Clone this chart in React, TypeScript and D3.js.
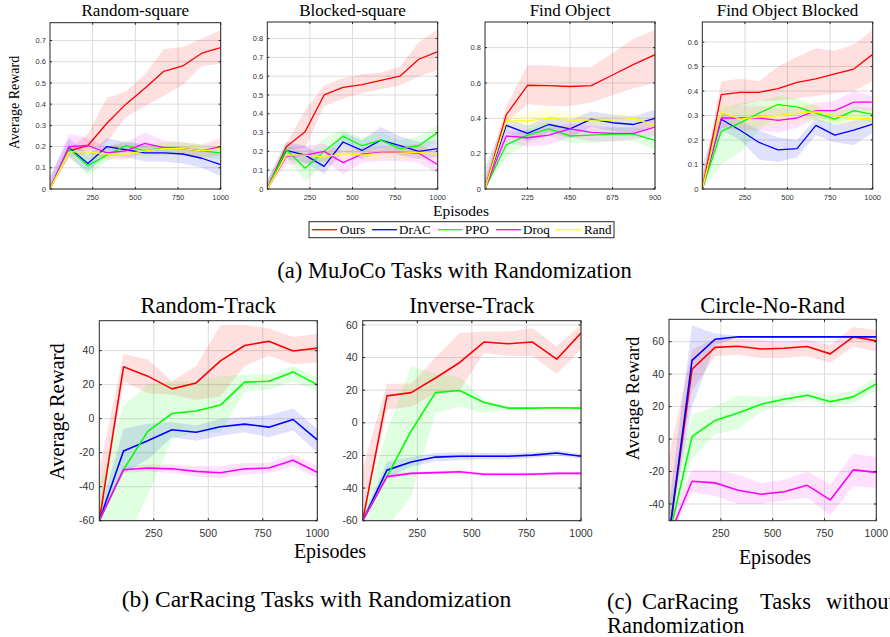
import React from "react";
import * as d3 from "d3";

// ---------- shared data ----------
const methods = ["Ours", "DrAC", "PPO", "Droq", "Rand"];
const colors = ["#ff0000", "#0000ff", "#00ff00", "#ff00ff", "#ffff00"];
const xs10 = [0, 111.1, 222.2, 333.3, 444.4, 555.6, 666.7, 777.8, 888.9, 1000];
const xs9 = [0, 112.5, 225, 337.5, 450, 562.5, 675, 787.5, 900];
const xTicks1000 = [250, 500, 750, 1000];
const xTicks900 = [225, 450, 675, 900];

// ---------- Random-square ----------
const rsOurs = [0, 0.18, 0.205, 0.31, 0.40, 0.475, 0.555, 0.58, 0.64, 0.667];
const rsOursHi = [0.02, 0.19, 0.26, 0.43, 0.46, 0.54, 0.66, 0.67, 0.71, 0.75];
const rsOursLo = [0, 0.17, 0.18, 0.22, 0.34, 0.39, 0.44, 0.49, 0.58, 0.59];
const rsDrac = [0, 0.195, 0.12, 0.2, 0.185, 0.17, 0.17, 0.165, 0.145, 0.115];
const rsDracHi = [0.06, 0.24, 0.16, 0.24, 0.22, 0.21, 0.2, 0.2, 0.19, 0.17];
const rsDracLo = [0, 0.15, 0.08, 0.16, 0.15, 0.13, 0.13, 0.12, 0.1, 0.06];
const rsPpo = [0, 0.19, 0.11, 0.16, 0.205, 0.18, 0.195, 0.19, 0.18, 0.17];
const rsPpoHi = [0.03, 0.22, 0.17, 0.2, 0.23, 0.21, 0.22, 0.22, 0.21, 0.2];
const rsPpoLo = [0, 0.16, 0.06, 0.13, 0.18, 0.15, 0.17, 0.16, 0.15, 0.14];
const rsDroq = [0, 0.2, 0.205, 0.17, 0.18, 0.215, 0.195, 0.19, 0.18, 0.2];
const rsDroqHi = [0.05, 0.26, 0.24, 0.2, 0.22, 0.265, 0.23, 0.22, 0.21, 0.24];
const rsDroqLo = [0, 0.15, 0.17, 0.14, 0.14, 0.17, 0.16, 0.16, 0.15, 0.16];
const rsRand = [0, 0.175, 0.175, 0.165, 0.165, 0.18, 0.19, 0.19, 0.18, 0.19];
const rsRandHi = [0.02, 0.2, 0.2, 0.19, 0.19, 0.2, 0.22, 0.22, 0.21, 0.23];
const rsRandLo = [0, 0.15, 0.15, 0.14, 0.14, 0.15, 0.16, 0.16, 0.15, 0.16];
const rsYTicks = [0, 0.1, 0.2, 0.3, 0.4, 0.5, 0.6, 0.7];

// ---------- Blocked-square ----------
const bsOurs = [0, 0.225, 0.305, 0.5, 0.54, 0.555, 0.578, 0.6, 0.69, 0.73];
const bsOursHi = [0.03, 0.24, 0.42, 0.55, 0.59, 0.61, 0.62, 0.65, 0.78, 0.85];
const bsOursLo = [0, 0.21, 0.22, 0.44, 0.48, 0.51, 0.53, 0.55, 0.6, 0.63];
const bsDrac = [0, 0.205, 0.18, 0.12, 0.25, 0.205, 0.26, 0.23, 0.2, 0.215];
const bsDracHi = [0.05, 0.25, 0.23, 0.17, 0.3, 0.26, 0.33, 0.28, 0.25, 0.26];
const bsDracLo = [0, 0.16, 0.14, 0.08, 0.2, 0.16, 0.2, 0.18, 0.16, 0.17];
const bsPpo = [0, 0.21, 0.11, 0.2, 0.28, 0.23, 0.26, 0.215, 0.23, 0.3];
const bsPpoHi = [0.04, 0.25, 0.18, 0.27, 0.32, 0.27, 0.3, 0.26, 0.28, 0.34];
const bsPpoLo = [0, 0.17, 0.04, 0.13, 0.24, 0.19, 0.22, 0.18, 0.19, 0.26];
const bsDroq = [0, 0.175, 0.18, 0.2, 0.14, 0.185, 0.195, 0.195, 0.19, 0.13];
const bsDroqHi = [0.04, 0.22, 0.23, 0.24, 0.2, 0.22, 0.23, 0.23, 0.24, 0.19];
const bsDroqLo = [0, 0.13, 0.13, 0.15, 0.08, 0.14, 0.15, 0.15, 0.14, 0.08];
const bsRand = [0, 0.18, 0.18, 0.17, 0.19, 0.18, 0.19, 0.19, 0.195, 0.185];
const bsRandHi = [0.02, 0.21, 0.21, 0.2, 0.22, 0.21, 0.22, 0.22, 0.23, 0.22];
const bsRandLo = [0, 0.15, 0.15, 0.14, 0.16, 0.15, 0.16, 0.16, 0.16, 0.15];
const bsYTicks = [0, 0.1, 0.2, 0.3, 0.4, 0.5, 0.6, 0.7, 0.8];

// ---------- Find Object ----------
const foOurs = [0, 0.42, 0.587, 0.585, 0.58, 0.585, 0.645, 0.705, 0.76];
const foOursHi = [0.05, 0.47, 0.7, 0.7, 0.69, 0.69, 0.77, 0.85, 0.9];
const foOursLo = [0, 0.38, 0.48, 0.47, 0.47, 0.49, 0.53, 0.57, 0.6];
const foDrac = [0, 0.36, 0.315, 0.365, 0.34, 0.395, 0.375, 0.365, 0.4];
const foDracHi = [0.12, 0.4, 0.36, 0.41, 0.39, 0.44, 0.42, 0.41, 0.45];
const foDracLo = [0, 0.32, 0.27, 0.32, 0.29, 0.35, 0.33, 0.32, 0.35];
const foPpo = [0, 0.25, 0.305, 0.34, 0.3, 0.305, 0.31, 0.31, 0.275];
const foPpoHi = [0.04, 0.3, 0.34, 0.38, 0.34, 0.34, 0.35, 0.35, 0.33];
const foPpoLo = [0, 0.18, 0.26, 0.3, 0.26, 0.26, 0.27, 0.27, 0.22];
const foDroq = [0, 0.3, 0.29, 0.305, 0.34, 0.32, 0.315, 0.315, 0.35];
const foDroqHi = [0.06, 0.33, 0.33, 0.35, 0.37, 0.36, 0.35, 0.35, 0.4];
const foDroqLo = [0, 0.26, 0.24, 0.25, 0.29, 0.27, 0.27, 0.28, 0.3];
const foRand = [0, 0.385, 0.385, 0.4, 0.39, 0.39, 0.39, 0.4, 0.36];
const foRandHi = [0.08, 0.42, 0.43, 0.46, 0.43, 0.42, 0.42, 0.43, 0.4];
const foRandLo = [0, 0.35, 0.34, 0.35, 0.35, 0.36, 0.36, 0.37, 0.32];
const foYTicks = [0, 0.2, 0.4, 0.6, 0.8];

// ---------- Find Object Blocked ----------
const fbOurs = [0, 0.385, 0.395, 0.395, 0.41, 0.435, 0.45, 0.47, 0.49, 0.55];
const fbOursHi = [0.03, 0.44, 0.45, 0.44, 0.5, 0.54, 0.575, 0.565, 0.59, 0.65];
const fbOursLo = [0, 0.33, 0.34, 0.36, 0.36, 0.37, 0.38, 0.39, 0.4, 0.44];
const fbDrac = [0, 0.285, 0.24, 0.19, 0.16, 0.165, 0.26, 0.22, 0.24, 0.265];
const fbDracHi = [0.1, 0.32, 0.28, 0.24, 0.21, 0.2, 0.29, 0.26, 0.28, 0.3];
const fbDracLo = [0, 0.24, 0.2, 0.12, 0.11, 0.13, 0.22, 0.19, 0.18, 0.23];
const fbPpo = [0, 0.235, 0.27, 0.31, 0.345, 0.335, 0.31, 0.285, 0.32, 0.305];
const fbPpoHi = [0.06, 0.33, 0.35, 0.36, 0.38, 0.37, 0.34, 0.31, 0.34, 0.33];
const fbPpoLo = [0, 0.1, 0.15, 0.24, 0.3, 0.3, 0.28, 0.26, 0.29, 0.27];
const fbDroq = [0, 0.29, 0.29, 0.29, 0.28, 0.29, 0.32, 0.32, 0.355, 0.355];
const fbDroqHi = [0.05, 0.33, 0.34, 0.34, 0.33, 0.33, 0.35, 0.36, 0.4, 0.38];
const fbDroqLo = [0, 0.25, 0.24, 0.24, 0.23, 0.25, 0.29, 0.28, 0.31, 0.32];
const fbRand = [0, 0.315, 0.285, 0.295, 0.3, 0.31, 0.315, 0.3, 0.285, 0.29];
const fbRandHi = [0.04, 0.35, 0.33, 0.34, 0.35, 0.35, 0.35, 0.33, 0.32, 0.33];
const fbRandLo = [0, 0.28, 0.24, 0.25, 0.26, 0.27, 0.28, 0.27, 0.25, 0.25];
const fbYTicks = [0, 0.1, 0.2, 0.3, 0.4, 0.5, 0.6];

// ---------- Random-Track ----------
const rtOurs = [-60, 30.5, 25, 17.5, 21, 34, 43, 45.5, 39.8, 41.5];
const rtOursHi = [-30, 38, 35, 22, 31, 55, 55, 53, 48, 50];
const rtOursLo = [-60, 22, 15, 14, 11, 13, 31, 37, 32, 33];
const rtDrac = [-60, -19, -13, -6.5, -8, -4.8, -3.2, -5, -0.5, -12.5];
const rtDracHi = [-55, -6, -3, -2, -4, 0, 1, 2, 6, -6];
const rtDracLo = [-60, -32, -24, -11, -13, -10, -8, -11, -7, -20];
const rtPpo = [-60, -30, -7.5, 3, 4.5, 8, 21.5, 22, 27.5, 20];
const rtPpoHi = [-40, 8, 20, 22, 22, 25, 26, 26, 31, 24];
const rtPpoLo = [-60, -75, -45, -12, -8, -8, 16, 17, 22, 16];
const rtDroq = [-60, -30, -29, -29.5, -31, -31.8, -29.5, -29, -24.5, -31.5];
const rtDroqHi = [-60, -28, -27, -27, -28, -28, -26, -26, -21, -28];
const rtDroqLo = [-60, -32, -31, -32, -34, -35, -33, -32, -28, -35];

// ---------- Inverse-Track ----------
const itOurs = [-60, 16.5, 18.5, 27.5, 37, 49.5, 48.5, 49.5, 39, 55];
const itOursHi = [-28, 24, 24, 40, 55, 56, 56, 58, 47, 60];
const itOursLo = [-60, 8, 10, 18, 20, 43, 41, 41, 30, 45];
const itDrac = [-60, -29, -24, -21, -20.5, -20.5, -20.5, -19.8, -18.5, -20.5];
const itDracHi = [-58, -24, -21, -18.5, -18, -18.5, -18.5, -18, -17, -19];
const itDracLo = [-60, -34, -27, -23.5, -23, -22.5, -22.5, -21.5, -20, -22];
const itPpo = [-60, -33, -5, 18.5, 19.8, 12.5, 9, 9, 9.2, 9];
const itPpoHi = [-55, -5, 35, 30, 28, 14, 10, 10, 10, 10];
const itPpoLo = [-60, -65, -45, 6, 10, 6, 8, 8, 8.5, 8];
const itDroq = [-60, -33, -31, -30.5, -30, -31.5, -31.5, -31.5, -31, -31];
const itDroqHi = [-60, -31.5, -30, -29.5, -29, -30.5, -30.5, -30.5, -30, -30];
const itDroqLo = [-60, -34.5, -32, -31.5, -31, -32.5, -32.5, -32.5, -32, -32];

// ---------- Circle-No-Rand ----------
const cnOurs = [-60, 43, 56.5, 57.2, 55.5, 56, 57, 52.5, 63, 60.5];
const cnOursHi = [-10, 55, 62, 62, 61, 60, 61, 58, 69, 67];
const cnOursLo = [-60, 30, 51, 52, 50, 50, 51, 47, 57, 54];
const cnDrac = [-60, 48.5, 61.5, 63, 63, 63, 63, 63, 63, 63];
const cnDracHi = [-40, 70, 65, 63.5, 63.5, 63.5, 63.5, 63.5, 63.5, 63.5];
const cnDracLo = [-60, 20, 58, 62.5, 62.5, 62.5, 62.5, 62.5, 62.5, 62.5];
const cnPpo = [-60, 1.5, 11.5, 16, 21.5, 24.5, 27, 23, 26, 34];
const cnPpoHi = [-40, 15, 20, 27, 26, 27, 30, 27, 30, 38];
const cnPpoLo = [-60, -12, 3, 6, 17, 21, 24, 20, 22, 30];
const cnDroq = [-60, -26, -27, -31.5, -34, -32.5, -28.5, -37.5, -19, -20.5];
const cnDroqHi = [-50, -19, -19, -22, -27, -25, -20, -28, -9, -11];
const cnDroqLo = [-60, -33, -35, -40, -40, -38, -36, -47, -29, -30];

const trackYTicks = [-60, -40, -20, 0, 20, 40];
const invYTicks = [-60, -40, -20, 0, 20, 40, 60];
const circYTicks = [-40, -20, 0, 20, 40, 60];

type S = { color: string; mean: number[]; lo: number[]; hi: number[] };
const mk = (i: number, mean: number[], lo: number[], hi: number[]): S => ({ color: colors[i], mean, lo, hi });

const SERIF = "'Liberation Serif', 'Times New Roman', serif";
const SANS = "'Liberation Sans', Arial, sans-serif";
const AX = "#262626";

type PanelProps = {
  id: string;
  box: { x: number; y: number; w: number; h: number };
  xDomain: number[];
  yDomain: number[];
  xTicks: number[];
  yTicks: number[];
  xs: number[];
  series: S[];
  tickFont: number;
  xLabelDy: number;
  yLabelDx: number;
  fmt: (d: number) => string;
  title: string;
  titleSize: number;
  titleY: number;
  lw: number;
  tickLen: number;
};

function Panel(p: PanelProps) {
  const { box } = p;
  const x = d3.scaleLinear().domain(p.xDomain).range([box.x, box.x + box.w]);
  const y = d3.scaleLinear().domain(p.yDomain).range([box.y + box.h, box.y]);
  const line = d3
    .line<number>()
    .x((_, i) => x(p.xs[i]))
    .y((d) => y(d));
  const areaGen = (s: S) =>
    d3
      .area<number>()
      .x((_, i) => x(p.xs[i]))
      .y0((_, i) => y(s.lo[i]))
      .y1((_, i) => y(s.hi[i]))(s.mean);
  const x0 = box.x, x1 = box.x + box.w, y0 = box.y, y1 = box.y + box.h;
  return (
    <g>
      <defs>
        <clipPath id={p.id}>
          <rect x={x0} y={y0} width={box.w} height={box.h} />
        </clipPath>
      </defs>
      <rect x={x0} y={y0} width={box.w} height={box.h} fill="#fff" />
      {p.xTicks.map((t) => (
        <line key={"gx" + t} x1={x(t)} x2={x(t)} y1={y0} y2={y1} stroke="#dcdcdc" strokeWidth={1} />
      ))}
      {p.yTicks.map((t) => (
        <line key={"gy" + t} x1={x0} x2={x1} y1={y(t)} y2={y(t)} stroke="#dcdcdc" strokeWidth={1} />
      ))}
      <g clipPath={`url(#${p.id})`}>
        {p.series.map((s, i) => (
          <path key={"a" + i} d={areaGen(s) || ""} fill={s.color} fillOpacity={0.12} stroke="none" />
        ))}
        {p.series.map((s, i) => (
          <path key={"l" + i} d={line(s.mean) || ""} fill="none" stroke={s.color} strokeWidth={p.lw} strokeLinejoin="round" />
        ))}
      </g>
      <rect x={x0} y={y0} width={box.w} height={box.h} fill="none" stroke={AX} strokeWidth={1} />
      {p.xTicks.map((t) => (
        <g key={"tx" + t}>
          <line x1={x(t)} x2={x(t)} y1={y1} y2={y1 - p.tickLen} stroke={AX} strokeWidth={1} />
          <line x1={x(t)} x2={x(t)} y1={y0} y2={y0 + p.tickLen} stroke={AX} strokeWidth={1} />
          <text x={x(t)} y={y1 + p.xLabelDy} textAnchor="middle" fontFamily={SANS} fontSize={p.tickFont} fill="#333">
            {String(t)}
          </text>
        </g>
      ))}
      {p.yTicks.map((t) => (
        <g key={"ty" + t}>
          <line x1={x0} x2={x0 + p.tickLen} y1={y(t)} y2={y(t)} stroke={AX} strokeWidth={1} />
          <line x1={x1} x2={x1 - p.tickLen} y1={y(t)} y2={y(t)} stroke={AX} strokeWidth={1} />
          <text x={x0 - p.yLabelDx} y={y(t)} dy="0.35em" textAnchor="end" fontFamily={SANS} fontSize={p.tickFont} fill="#333">
            {p.fmt(t)}
          </text>
        </g>
      ))}
      <text x={(x0 + x1) / 2} y={p.titleY} textAnchor="middle" fontFamily={SERIF} fontSize={p.titleSize} fill="#000">
        {p.title}
      </text>
    </g>
  );
}

const fmtDec = (d: number) => (d === 0 ? "0" : d.toFixed(1));
const fmtInt = (d: number) => String(d);

export default function App() {
  const top = { tickFont: 7.5, xLabelDy: 11, yLabelDx: 4, fmt: fmtDec, titleSize: 17, titleY: 16, lw: 1.3, tickLen: 2 };
  const bot = { tickFont: 10.5, xLabelDy: 16, yLabelDx: 5, fmt: fmtInt, titleSize: 22.5, titleY: 312.7, lw: 1.6, tickLen: 2.5 };
  const legendLayout = [
    { l0: 312, l1: 337, t: 340 },
    { l0: 372, l1: 397, t: 399 },
    { l0: 438, l1: 462, t: 465 },
    { l0: 496, l1: 521, t: 523 },
    { l0: 556, l1: 581, t: 584 },
  ];
  return (
    <svg width={890} height={637} style={{ position: "absolute", left: 0, top: 0, background: "#fff" }}>
      <rect x={0} y={0} width={890} height={637} fill="#fff" />
      <Panel
        id="c1" box={{ x: 50, y: 22.7, w: 170.7, h: 166.3 }} xDomain={[0, 1000]} yDomain={[0, 0.784]}
        xTicks={xTicks1000} yTicks={rsYTicks} xs={xs10} title="Random-square" {...top}
        series={[mk(0, rsOurs, rsOursLo, rsOursHi), mk(1, rsDrac, rsDracLo, rsDracHi), mk(2, rsPpo, rsPpoLo, rsPpoHi), mk(3, rsDroq, rsDroqLo, rsDroqHi), mk(4, rsRand, rsRandLo, rsRandHi)]}
      />
      <Panel
        id="c2" box={{ x: 267.3, y: 22, w: 170.4, h: 167 }} xDomain={[0, 1000]} yDomain={[0, 0.888]}
        xTicks={xTicks1000} yTicks={bsYTicks} xs={xs10} title="Blocked-square" {...top}
        series={[mk(0, bsOurs, bsOursLo, bsOursHi), mk(1, bsDrac, bsDracLo, bsDracHi), mk(2, bsPpo, bsPpoLo, bsPpoHi), mk(3, bsDroq, bsDroqLo, bsDroqHi), mk(4, bsRand, bsRandLo, bsRandHi)]}
      />
      <Panel
        id="c3" box={{ x: 485, y: 22, w: 170, h: 167 }} xDomain={[0, 900]} yDomain={[0, 0.945]}
        xTicks={xTicks900} yTicks={foYTicks} xs={xs9} title="Find Object" {...top}
        series={[mk(0, foOurs, foOursLo, foOursHi), mk(1, foDrac, foDracLo, foDracHi), mk(2, foPpo, foPpoLo, foPpoHi), mk(3, foDroq, foDroqLo, foDroqHi), mk(4, foRand, foRandLo, foRandHi)]}
      />
      <Panel
        id="c4" box={{ x: 702.3, y: 22, w: 170.4, h: 167 }} xDomain={[0, 1000]} yDomain={[0, 0.682]}
        xTicks={xTicks1000} yTicks={fbYTicks} xs={xs10} title="Find Object Blocked" {...top}
        series={[mk(0, fbOurs, fbOursLo, fbOursHi), mk(1, fbDrac, fbDracLo, fbDracHi), mk(2, fbPpo, fbPpoLo, fbPpoHi), mk(3, fbDroq, fbDroqLo, fbDroqHi), mk(4, fbRand, fbRandLo, fbRandHi)]}
      />
      <text transform="translate(14,102.5) rotate(-90)" textAnchor="middle" dy="0.35em" fontFamily={SERIF} fontSize={14}>
        Average Reward
      </text>
      <text x={461} y={216} textAnchor="middle" fontFamily={SERIF} fontSize={15.5}>
        Episodes
      </text>
      <rect x={309} y={221.7} width={305} height={16} fill="#fff" stroke={AX} strokeWidth={1} />
      {methods.map((m, i) => (
        <g key={m}>
          <line x1={legendLayout[i].l0} x2={legendLayout[i].l1} y1={229.7} y2={229.7} stroke={colors[i]} strokeWidth={1.3} />
          <text x={legendLayout[i].t} y={234.2} fontFamily={SERIF} fontSize={13}>
            {m}
          </text>
        </g>
      ))}
      <text x={454.5} y={278} textAnchor="middle" fontFamily={SERIF} fontSize={22.6}>
        (a) MuJoCo Tasks with Randomization
      </text>

      <Panel
        id="c5" box={{ x: 99.3, y: 320.7, w: 218, h: 200 }} xDomain={[0, 1000]} yDomain={[-60, 57.6]}
        xTicks={xTicks1000} yTicks={trackYTicks} xs={xs10} title="Random-Track" {...bot}
        series={[mk(0, rtOurs, rtOursLo, rtOursHi), mk(1, rtDrac, rtDracLo, rtDracHi), mk(2, rtPpo, rtPpoLo, rtPpoHi), mk(3, rtDroq, rtDroqLo, rtDroqHi)]}
      />
      <Panel
        id="c6" box={{ x: 362.7, y: 320.7, w: 218.3, h: 200 }} xDomain={[0, 1000]} yDomain={[-60, 62.6]}
        xTicks={xTicks1000} yTicks={invYTicks} xs={xs10} title="Inverse-Track" {...bot}
        series={[mk(0, itOurs, itOursLo, itOursHi), mk(1, itDrac, itDracLo, itDracHi), mk(2, itPpo, itPpoLo, itPpoHi), mk(3, itDroq, itDroqLo, itDroqHi)]}
      />
      <Panel
        id="c7" box={{ x: 669, y: 319.3, w: 207.3, h: 201.4 }} xDomain={[0, 1000]} yDomain={[-50.3, 73.8]}
        xTicks={xTicks1000} yTicks={circYTicks} xs={xs10} title="Circle-No-Rand" {...bot}
        series={[mk(0, cnOurs, cnOursLo, cnOursHi), mk(1, cnDrac, cnDracLo, cnDracHi), mk(2, cnPpo, cnPpoLo, cnPpoHi), mk(3, cnDroq, cnDroqLo, cnDroqHi)]}
      />
      <text transform="translate(57,411.7) rotate(-90)" textAnchor="middle" dy="0.35em" fontFamily={SERIF} fontSize={20.5}>
        Average Reward
      </text>
      <text x={330} y={558} textAnchor="middle" fontFamily={SERIF} fontSize={20}>
        Episodes
      </text>
      <text transform="translate(633,398.5) rotate(-90)" textAnchor="middle" dy="0.35em" fontFamily={SERIF} fontSize={18.5}>
        Average Reward
      </text>
      <text x={775} y={564} textAnchor="middle" fontFamily={SERIF} fontSize={20}>
        Episodes
      </text>
      <text x={316.5} y={607} textAnchor="middle" fontFamily={SERIF} fontSize={23.5}>
        (b) CarRacing Tasks with Randomization
      </text>
      <g fontFamily={SERIF} fontSize={22.5}>
        <text x={607} y={609}>(c)</text>
        <text x={642} y={609}>CarRacing</text>
        <text x={760} y={609}>Tasks</text>
        <text x={826} y={609}>without</text>
        <text x={607} y={633}>Randomization</text>
      </g>
    </svg>
  );
}
